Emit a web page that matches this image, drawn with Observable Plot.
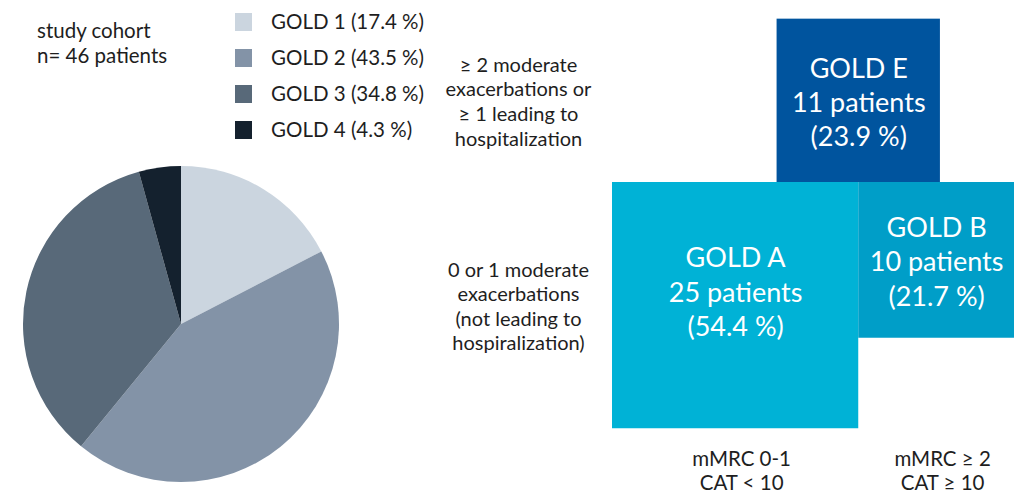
<!DOCTYPE html>
<html><head><meta charset="utf-8">
<script src="https://cdn.jsdelivr.net/npm/d3@7"></script>
<script src="https://cdn.jsdelivr.net/npm/@observablehq/plot@0.6"></script>
<style>
html,body{margin:0;padding:0;background:#fff;}
#chart{position:relative;width:1017px;height:494px;overflow:hidden;font-family:Lato,sans-serif;color:#1e1e1e;}
#chart svg{position:absolute;top:0;}
.lbl{position:absolute;font-size:20.5px;line-height:25px;white-space:nowrap;}
.sw{position:absolute;width:17px;height:18px;}
</style></head><body><div id="chart"></div>
<script>
// ---- data ----
const goldStages = ["GOLD 1", "GOLD 2", "GOLD 3", "GOLD 4"];
const stageShares = [17.4, 43.5, 34.8, 4.3];
const stageColors = ["#cbd5df", "#8393a7", "#586979", "#14212e"];

const groupNames = ["GOLD A", "GOLD B", "GOLD E"];
const groupPatients = [25, 10, 11];
const groupShares = ["54.4", "21.7", "23.9"];
const groupColors = ["#00b2d6", "#009ec8", "#00549e"];

const rowLabels = [
  "≥ 2 moderate\nexacerbations or\n≥ 1 leading to\nhospitalization",
  "0 or 1 moderate\nexacerbations\n(not leading to\nhospiralization)"
];
const colLabels = ["mMRC 0-1\nCAT < 10", "mMRC ≥ 2\nCAT ≥ 10"];
const cohortLines = ["study cohort", "n= 46 patients"];

// ---- build ----
const chart = document.getElementById("chart");
const ink = "#1e1e1e";

// cohort text
const cohort = document.createElement("div");
cohort.className = "lbl";
cohort.style.left = "37px"; cohort.style.top = "18px";
cohort.innerHTML = cohortLines.join("<br>");
chart.appendChild(cohort);

// legend
const stages = goldStages.map((name, i) => ({name, share: stageShares[i], color: stageColors[i]}));
stages.forEach((s, i) => {
  const sw = document.createElement("div");
  sw.className = "sw";
  sw.style.left = "235px"; sw.style.top = (13 + i * 36) + "px"; sw.style.background = s.color;
  chart.appendChild(sw);
  const t = document.createElement("div");
  t.className = "lbl";
  t.style.left = "271px"; t.style.top = (9 + i * 36) + "px";
  t.textContent = `${s.name} (${s.share} %)`;
  chart.appendChild(t);
});

// pie
const pieSlices = d3.pie().sort(null).value(d => d.share)(stages);
function pieMark(index, scales, values, dimensions) {
  const cx = scales.x(0), cy = scales.y(0), r = scales.x(1) - scales.x(0);
  const arc = d3.arc().innerRadius(0).outerRadius(r);
  const g = d3.create("svg:g").attr("transform", `translate(${cx},${cy})`);
  g.selectAll("path").data(pieSlices).join("path").attr("d", arc).attr("fill", d => d.data.color);
  return g.node();
}
const pie = Plot.plot({
  width: 430, height: 494, margin: 0,
  x: {domain: [-1, 1], range: [23, 339], axis: null},
  y: {domain: [-1, 1], range: [482, 166], axis: null},
  style: {background: "transparent"},
  marks: [
    Plot.dot([{x: 0, y: 0}], {x: "x", y: "y", r: 0}),
    pieMark
  ]
});
pie.style.left = "0px";
chart.appendChild(pie);

// GOLD A/B/E boxes: area proportional to patient count
const boxes = groupNames.map((name, i) => ({
  name, patients: groupPatients[i], share: groupShares[i], color: groupColors[i],
  side: Math.sqrt(groupPatients[i])
}));
const [A, B, E] = boxes;
Object.assign(A, {x1: -A.side, x2: 0, y1: -A.side, y2: 0});
Object.assign(B, {x1: 0, x2: B.side, y1: -B.side, y2: 0});
Object.assign(E, {x1: -E.side / 2, x2: E.side / 2, y1: 0, y2: E.side});
const k = 49.25, left0 = 182, base = 182;
const cxf = d => (d.x1 + d.x2) / 2, cyf = d => (d.y1 + d.y2) / 2;
const boxText = d => `${d.name}\n${d.patients} patients\n(${d.share} %)`;

const right = Plot.plot({
  width: 587, height: 494, margin: 0,
  x: {domain: [A.x1, B.x2], range: [left0, left0 + (A.side + B.side) * k], axis: null},
  y: {domain: [A.y1, E.y2], range: [base + A.side * k, base - E.side * k], axis: null},
  color: {type: "identity"},
  style: {background: "transparent", fontFamily: "Lato, sans-serif", overflow: "visible"},
  marks: [
    Plot.rect(boxes, {x1: "x1", x2: "x2", y1: "y1", y2: "y2", fill: "color"}),
    Plot.text(boxes.filter(d => d !== A), {x: cxf, y: cyf, text: boxText, fill: "white", fontSize: 27, lineHeight: 1.27}),
    Plot.text([A], {x: cxf, y: cyf, text: boxText, fill: "white", fontSize: 27, lineHeight: 1.27, dy: -15}),
    Plot.text(rowLabels, {x: () => A.x1, y: (d, i) => i === 0 ? cyf(E) : cyf(A), text: d => d, dx: -94, fontSize: 20, lineHeight: 1.23, fill: ink}),
    Plot.text(colLabels, {x: (d, i) => i === 0 ? cxf(A) : cxf(B), y: () => A.y1, text: d => d, dx: 6, dy: 42, fontSize: 20.5, lineHeight: 1.17, fill: ink})
  ]
});
right.style.left = "430px";
chart.appendChild(right);
</script></body></html>
